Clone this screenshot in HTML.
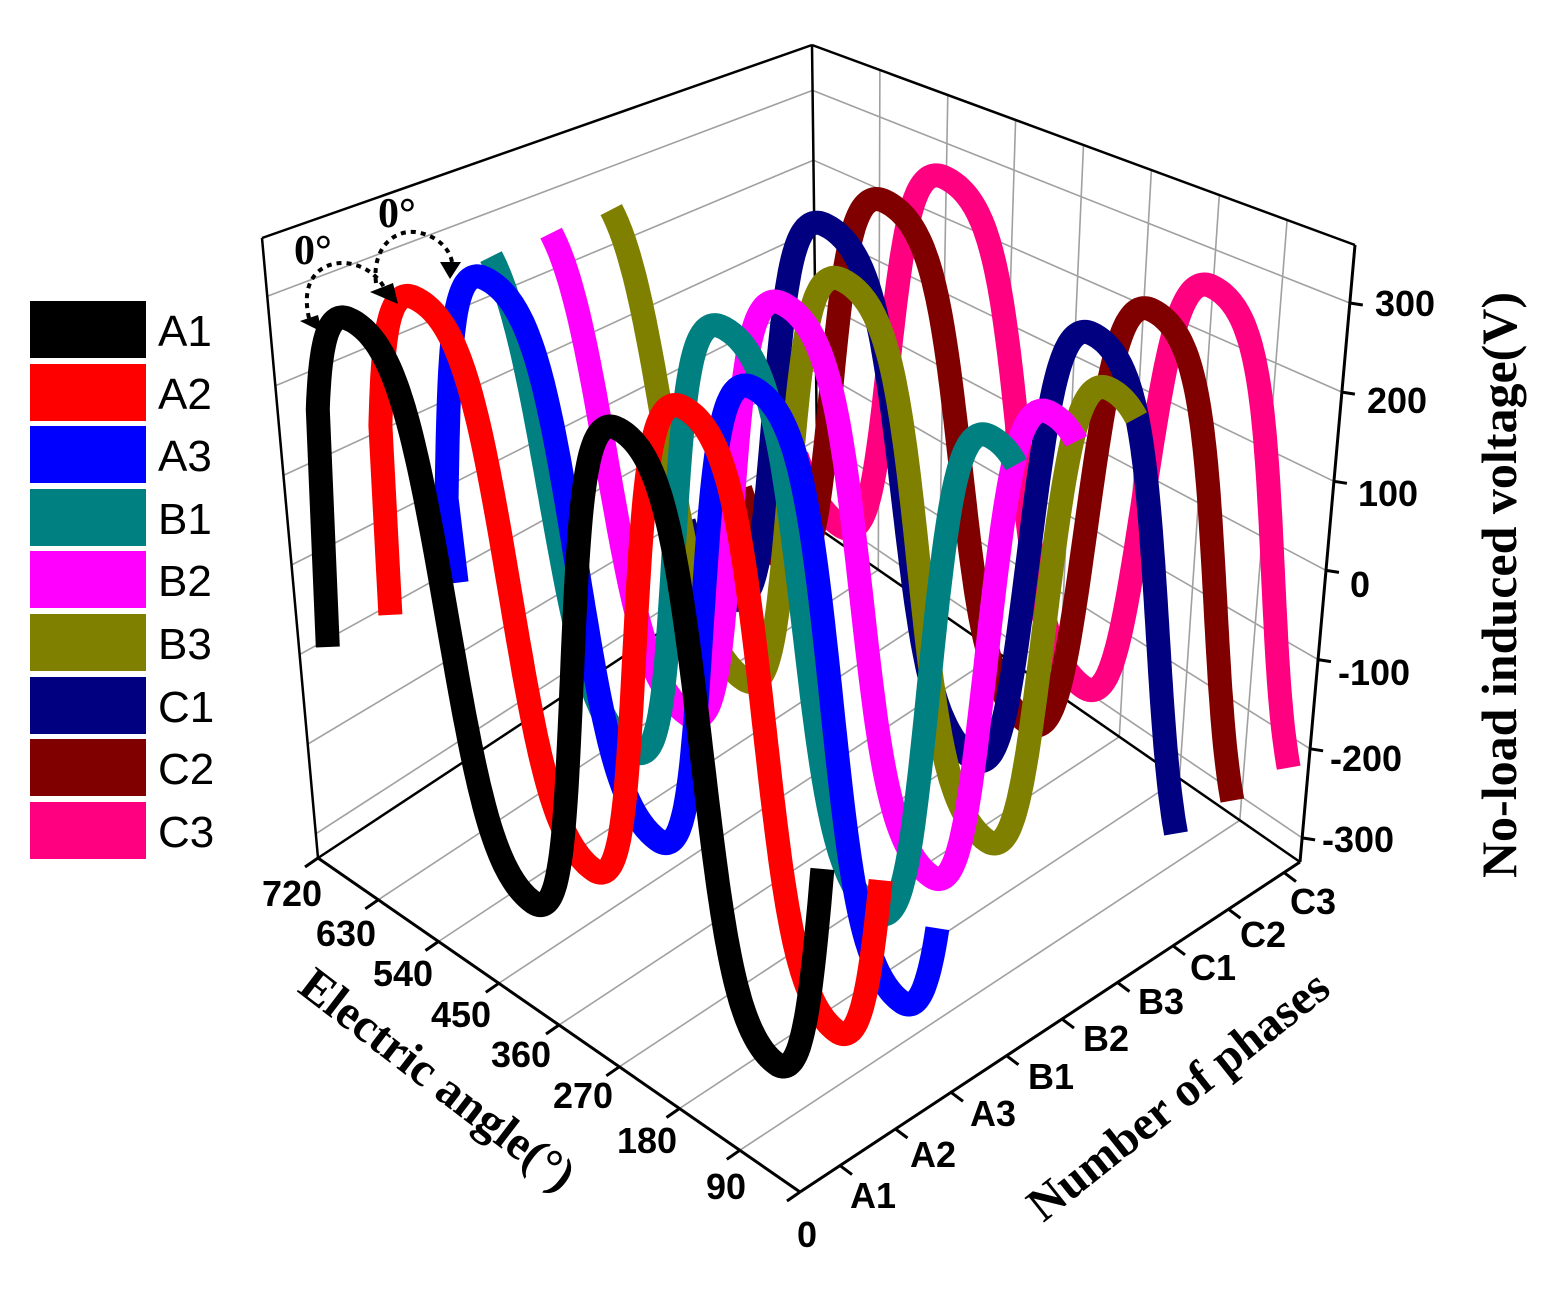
<!DOCTYPE html>
<html><head><meta charset="utf-8">
<style>
html,body{margin:0;padding:0;background:#fff;}
svg{display:block;}
.tk{font-family:"Liberation Sans",Arial,sans-serif;font-weight:bold;font-size:36px;fill:#000;}
.lg{font-family:"Liberation Sans",Arial,sans-serif;font-size:44px;fill:#000;}
.ti{font-family:"Liberation Serif","Times New Roman",serif;font-weight:bold;font-size:48px;fill:#000;}
</style></head>
<body>
<svg id="s" width="1565" height="1292" viewBox="0 0 1565 1292" xmlns="http://www.w3.org/2000/svg">
<g id="grid" stroke="#a0a0a0" stroke-width="1.6" fill="none"></g>
<g id="frame" stroke="#000" stroke-width="2.5" fill="none"></g>
<g id="curves" fill="none" stroke-width="24" stroke-linejoin="round" stroke-linecap="butt"></g>
<g id="axes" stroke="#000" stroke-width="3" fill="none"></g>

<rect x="30" y="301" width="116" height="57" fill="#000"/>
<rect x="30" y="364" width="116" height="57" fill="#ff0000"/>
<rect x="30" y="426" width="116" height="57" fill="#0000ff"/>
<rect x="30" y="489" width="116" height="57" fill="#008080"/>
<rect x="30" y="551" width="116" height="57" fill="#ff00ff"/>
<rect x="30" y="614" width="116" height="57" fill="#808000"/>
<rect x="30" y="677" width="116" height="57" fill="#000080"/>
<rect x="30" y="739" width="116" height="57" fill="#800000"/>
<rect x="30" y="802" width="116" height="57" fill="#ff0080"/>
<text class="lg" x="158" y="346">A1</text>
<text class="lg" x="158" y="409">A2</text>
<text class="lg" x="158" y="471">A3</text>
<text class="lg" x="158" y="534">B1</text>
<text class="lg" x="158" y="596">B2</text>
<text class="lg" x="158" y="659">B3</text>
<text class="lg" x="158" y="722">C1</text>
<text class="lg" x="158" y="784">C2</text>
<text class="lg" x="158" y="847">C3</text>

<text class="tk" x="262" y="906">720</text>
<text class="tk" x="316" y="946">630</text>
<text class="tk" x="373" y="986">540</text>
<text class="tk" x="431" y="1027">450</text>
<text class="tk" x="491" y="1067">360</text>
<text class="tk" x="553" y="1108">270</text>
<text class="tk" x="617" y="1153">180</text>
<text class="tk" x="706" y="1199">90</text>
<text class="tk" x="797" y="1247">0</text>
<text class="tk" x="850" y="1208">A1</text>
<text class="tk" x="910" y="1167">A2</text>
<text class="tk" x="970" y="1126">A3</text>
<text class="tk" x="1028" y="1089">B1</text>
<text class="tk" x="1083" y="1051">B2</text>
<text class="tk" x="1138" y="1014">B3</text>
<text class="tk" x="1190" y="980">C1</text>
<text class="tk" x="1240" y="947">C2</text>
<text class="tk" x="1290" y="914">C3</text>
<text class="tk" x="1375" y="316">300</text>
<text class="tk" x="1367" y="413">200</text>
<text class="tk" x="1358" y="506">100</text>
<text class="tk" x="1350" y="597">0</text>
<text class="tk" x="1338" y="685">-100</text>
<text class="tk" x="1330" y="771">-200</text>
<text class="tk" x="1322" y="852">-300</text>

<text class="ti" style="font-size:50px" transform="translate(1516,585) rotate(-90)" text-anchor="middle">No-load induced voltage(V)</text>
<text class="ti" transform="translate(428,1092) rotate(37.5)" text-anchor="middle">Electric angle(°)</text>
<text class="ti" transform="translate(1188,1108) rotate(-38.5)" text-anchor="middle">Number of phases</text>

<text x="294" y="264" font-family="Liberation Serif,serif" font-weight="bold" font-size="42">0°</text>
<text x="378" y="227" font-family="Liberation Serif,serif" font-weight="bold" font-size="42">0°</text>
<path d="M309,318 C300,280 320,262 345,263 C368,265 382,280 388,295" fill="none" stroke="#000" stroke-width="4" stroke-dasharray="5,5"/>
<path d="M376,283 C372,250 392,230 415,232 C438,235 450,250 452,262" fill="none" stroke="#000" stroke-width="4" stroke-dasharray="5,5"/>
<polygon points="300,321 318,315 322,332" fill="#000"/>
<polygon points="370,292 393,283 398,304" fill="#000"/>
<polygon points="440,262 461,262 450,279" fill="#000"/>
</svg>
<script>
(function(){
var NS="http://www.w3.org/2000/svg";
var VMIN=-327,VMAX=365;
function P(a,p,v){
  var s=a/720;
  var bx=800-482*s+500*p, by=1192-334*s-330*p;
  var H=(1-s)*(1-p)*754+s*(1-p)*620+s*p*483+(1-s)*p*617;
  var dx=(1-s)*(1-p)*5+s*(1-p)*(-56)+s*p*(-6)+(1-s)*p*55;
  var f=(v-VMIN)/(VMAX-VMIN);
  return [bx+dx*f, by-H*f];
}
function line(g,a,b){var l=document.createElementNS(NS,"line");l.setAttribute("x1",a[0].toFixed(1));l.setAttribute("y1",a[1].toFixed(1));l.setAttribute("x2",b[0].toFixed(1));l.setAttribute("y2",b[1].toFixed(1));g.appendChild(l);}
var grid=document.getElementById("grid"),frame=document.getElementById("frame"),axes=document.getElementById("axes");
var v,a;
for(v=-300;v<=300;v+=100){line(grid,P(720,0,v),P(720,1,v));}
for(v=-300;v<=300;v+=100){line(grid,P(720,1,v),P(0,1,v));}
for(a=90;a<720;a+=90){line(grid,P(a,1,VMIN),P(a,1,VMAX));}
for(a=90;a<720;a+=90){line(grid,P(a,0,VMIN),P(a,1,VMIN));}
line(frame,P(720,0,VMIN),P(720,0,VMAX));
line(frame,P(720,0,VMAX),P(720,1,VMAX));
line(frame,P(720,1,VMAX),P(0,1,VMAX));
line(frame,P(720,1,VMIN),P(720,1,VMAX));
line(frame,P(720,0,VMIN),P(720,1,VMIN));
line(frame,P(720,1,VMIN),P(0,1,VMIN));
line(axes,P(0,0,VMIN),P(720,0,VMIN));
line(axes,P(0,0,VMIN),P(0,1,VMIN));
line(axes,P(0,1,VMIN),P(0,1,VMAX));
for(a=0;a<=720;a+=90){var q=P(a,0,VMIN);line(axes,q,[q[0]-13,q[1]+9]);}
for(var k=0;k<9;k++){var q2=P(0,0.08+0.111*k,VMIN);line(axes,q2,[q2[0]+12,q2[1]+9]);}
for(v=-300;v<=300;v+=100){var q3=P(0,1,v);line(axes,q3,[q3[0]+13,q3[1]+2]);}
var cols=["#000000","#ff0000","#0000ff","#008080","#ff00ff","#808000","#000080","#800000","#ff0080"];
var peakX=[615,680,750,720,780,840,1090,1150,1210];
var AMP=272,PER=360,FALL=220,RISE=PER-FALL,K=1.4,TK=Math.tanh(K);
function W(a,pk){var u=((pk-a)%PER+PER)%PER,c; if(u<FALL) c=Math.cos(Math.PI*u/FALL); else c=-Math.cos(Math.PI*(u-FALL)/RISE);
  return AMP*Math.tanh(K*c)/TK;}
var cg=document.getElementById("curves");
var endA=[30,28,26,15,15,15,5,5,5];
for(var i=8;i>=0;i--){
  var pp=0.08+0.111*i;
  var lo=i<6?200:-20, hi=i<6?520:320, best=lo,bd=1e9;
  for(a=lo;a<=hi;a+=0.5){var d=Math.abs(P(a,pp,AMP)[0]-peakX[i]);if(d<bd){bd=d;best=a;}}
  var pts=[];
  if(i<3){var st=P(726,pp,W(726,best)); var lowp=P(726,pp,-120); pts.push((st[0]+10).toFixed(1)+","+lowp[1].toFixed(1));}
  for(a=726;a>=endA[i];a-=2){var q4=P(a,pp,W(a,best));pts.push(q4[0].toFixed(1)+","+q4[1].toFixed(1));}
  var pl=document.createElementNS(NS,"polyline");
  pl.setAttribute("points",pts.join(" "));pl.setAttribute("stroke",cols[i]);
  cg.appendChild(pl);
}
})();
</script>
</body></html>
